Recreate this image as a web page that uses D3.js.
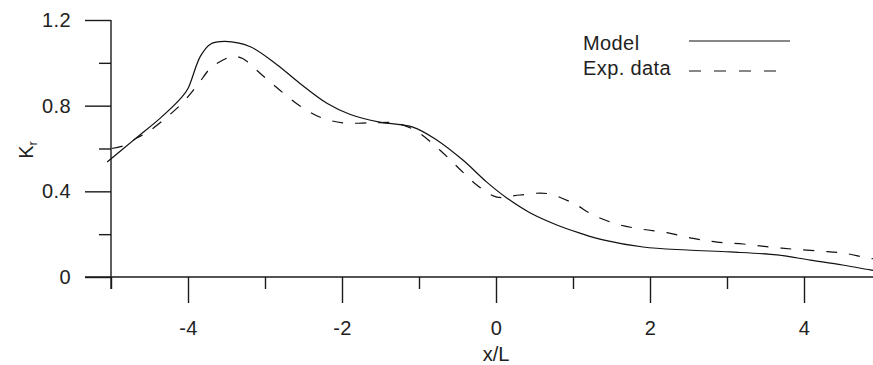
<!DOCTYPE html>
<html>
<head>
<meta charset="utf-8">
<script src="https://cdn.jsdelivr.net/npm/d3@7"></script>
<style>
  body { margin: 0; background: #fff; overflow: hidden; }
  svg { display: block; font-family: "Liberation Sans", Arial, sans-serif; }
</style>
</head>
<body>
<div id="chart"></div>
<script>
// x/L positions and K_r values
const modelX = [-5.05, -4.66, -4.36, -4.08, -4.0, -3.84, -3.71, -3.52, -3.19, -2.84, -2.55, -2.19, -1.9, -1.51, -1.08, -0.77, -0.43, -0.12, 0.14, 0.44, 0.79, 1.09, 1.39, 1.91, 2.48, 3.04, 3.65, 4.08, 4.5, 4.86, 4.95];
const modelY = [0.537, 0.653, 0.742, 0.84, 0.88, 1.03, 1.087, 1.10, 1.075, 0.99, 0.905, 0.81, 0.76, 0.723, 0.70, 0.64, 0.546, 0.443, 0.369, 0.30, 0.243, 0.205, 0.173, 0.14, 0.126, 0.117, 0.103, 0.079, 0.056, 0.033, 0.028];

const expX = [-4.99, -4.82, -4.66, -4.53, -4.32, -4.08, -3.88, -3.71, -3.61, -3.42, -3.29, -3.06, -2.81, -2.55, -2.29, -1.99, -1.6, -1.29, -1.03, -0.73, -0.49, -0.25, 0.01, 0.31, 0.66, 1.0, 1.26, 1.57, 1.9, 2.22, 2.56, 2.87, 3.21, 3.56, 3.86, 4.21, 4.51, 4.82, 4.95];
const expY = [0.60, 0.615, 0.65, 0.675, 0.733, 0.81, 0.895, 0.975, 1.0, 1.03, 1.02, 0.95, 0.873, 0.80, 0.747, 0.72, 0.72, 0.718, 0.68, 0.593, 0.51, 0.43, 0.373, 0.383, 0.39, 0.345, 0.29, 0.247, 0.223, 0.207, 0.18, 0.163, 0.154, 0.14, 0.13, 0.121, 0.112, 0.089, 0.083];

const xMajor = [-4, -2, 0, 2, 4];
const xMinor = [-5, -3, -1, 1, 3, 5];
const yMajor = [0, 0.4, 0.8, 1.2];
const yMinor = [0.2, 0.6, 1.0];
const legendNames = ["Model", "Exp. data"];

const W = 873, H = 365;
const svg = d3.select("#chart").append("svg")
    .attr("width", W)
    .attr("height", H);

const x = d3.scaleLinear().domain([-5, 5]).range([111, 881]);
const y = d3.scaleLinear().domain([0, 1.2]).range([277, 20]);

const axisColor = "#1a1a1a";
const fontSize = 20;

// y axis: major ticks long, minor ticks short
const yAxis = svg.append("g").attr("transform", `translate(${x(-5)},0)`);
yAxis.call(d3.axisLeft(y).tickValues(yMajor).tickSize(26).tickPadding(14)
    .tickFormat(d => d === 0 ? "0" : d3.format(".1f")(d)));
yAxis.append("g").call(d3.axisLeft(y).tickValues(yMinor).tickSize(12).tickFormat(""));
yAxis.selectAll(".domain").remove();
yAxis.append("line").attr("x1", 0).attr("x2", 0).attr("y1", y(1.2)).attr("y2", y(0) + 12)
    .attr("stroke", axisColor).attr("stroke-width", 1.4);

// x axis (plain hyphen for negatives, as in the original)
const xAxis = svg.append("g").attr("transform", `translate(0,${y(0)})`);
xAxis.call(d3.axisBottom(x).tickValues(xMajor).tickSize(26).tickPadding(18).tickFormat(d => String(d)));
xAxis.append("g").call(d3.axisBottom(x).tickValues(xMinor).tickSize(12).tickFormat(""));
xAxis.selectAll(".domain").remove();
xAxis.append("line").attr("x1", x(-5) - 26).attr("x2", W).attr("y1", 0).attr("y2", 0)
    .attr("stroke", axisColor).attr("stroke-width", 1.4);

svg.selectAll(".tick line").attr("stroke", axisColor).attr("stroke-width", 1.4);
svg.selectAll(".tick text")
    .attr("fill", "#222")
    .style("font-size", fontSize + "px")
    .style("letter-spacing", "0.4px")
    .style("font-family", "Liberation Sans, Arial, sans-serif");

// axis titles
svg.append("text")
    .attr("x", x(0)).attr("y", 361)
    .attr("text-anchor", "middle")
    .style("font-size", fontSize + "px").attr("fill", "#222")
    .text("x/L");

const yTitle = svg.append("text")
    .attr("transform", "translate(33,150) rotate(-90)")
    .attr("text-anchor", "middle")
    .style("font-size", fontSize + "px").attr("fill", "#222");
yTitle.append("tspan").text("K");
yTitle.append("tspan").attr("dy", 4).style("font-size", "13px").text("r");

// curves
const line = d3.line()
    .x(d => x(d[0]))
    .y(d => y(d[1]))
    .curve(d3.curveCatmullRom.alpha(0.5));

const model = modelX.map((v, i) => [v, modelY[i]]);
const exp = expX.map((v, i) => [v, expY[i]]);

svg.append("path")
    .datum(model)
    .attr("d", line)
    .attr("fill", "none")
    .attr("stroke", "#111")
    .attr("stroke-width", 1.2);

svg.append("path")
    .datum(exp)
    .attr("d", line)
    .attr("fill", "none")
    .attr("stroke", "#111")
    .attr("stroke-width", 1.2)
    .attr("stroke-dasharray", "11,12");

// legend
const legend = svg.append("g");
legendNames.forEach((name, i) => {
    legend.append("text")
        .attr("x", 583).attr("y", 50 + i * 25)
        .style("font-size", fontSize + "px")
        .style("letter-spacing", "0.4px")
        .attr("fill", "#222")
        .text(name);
    legend.append("line")
        .attr("x1", 689).attr("x2", i === 0 ? 790 : 781)
        .attr("y1", 41 + i * 30).attr("y2", 41 + i * 30)
        .attr("stroke", "#111").attr("stroke-width", 1.2)
        .attr("stroke-dasharray", i === 0 ? null : "12,13");
});
</script>
</body>
</html>
